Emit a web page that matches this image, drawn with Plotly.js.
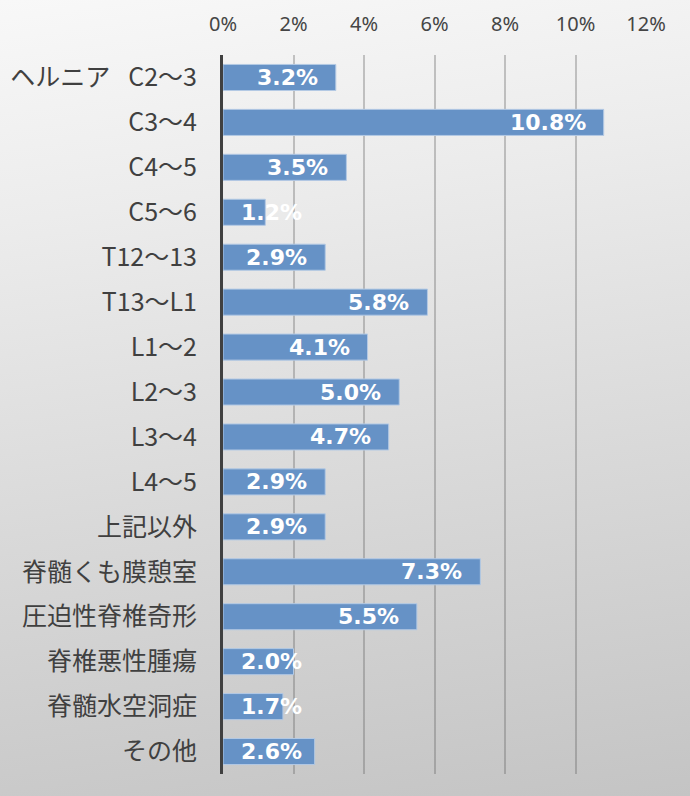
<!DOCTYPE html>
<html>
<head>
<meta charset="utf-8">
<script src="https://cdn.plot.ly/plotly-3.0.1.min.js"></script>
<style>
html,body{margin:0;padding:0;}
body{width:690px;height:796px;background:linear-gradient(172deg,#f8f8f8 0%,#ececec 25%,#d9d9d9 60%,#c4c4c4 100%);}
#chart{width:690px;height:796px;}
</style>
</head>
<body>
<div id="chart"></div>
<script>
const categories = ["ヘルニア\u2002\u00a0C2～3","C3～4","C4～5","C5～6","T12～13","T13～L1","L1～2","L2～3","L3～4","L4～5","上記以外","脊髄くも膜憩室","圧迫性脊椎奇形","脊椎悪性腫瘍","脊髄水空洞症","その他"];
const values = [3.2,10.8,3.5,1.2,2.9,5.8,4.1,5.0,4.7,2.9,2.9,7.3,5.5,2.0,1.7,2.6];
const tickVals = [0,2,4,6,8,10,12];
const tickText = ["0%","2%","4%","6%","8%","10%","12%"];

const W = 690, H = 796;
const margin = {l:223, r:44, t:55, b:22};
const xMax = 12;
const pxPer = (W - margin.l - margin.r) / xMax;
const labelFont = {family:"DejaVu Sans, sans-serif", size:22, color:"#ffffff", weight:700};

const ctx = document.createElement("canvas").getContext("2d");
ctx.font = "bold 22px 'DejaVu Sans'";

const annotations = values.map((v,i) => {
  const txt = v.toFixed(1) + "%";
  const w = ctx.measureText(txt).width;
  const pad = 16;
  if (v*pxPer - pad - w < pad) {
    return {x:0, y:categories[i], xref:"x", yref:"y", text:"<b>"+txt+"</b>", showarrow:false, xanchor:"left", xshift:pad, font:labelFont};
  }
  return {x:v, y:categories[i], xref:"x", yref:"y", text:"<b>"+txt+"</b>", showarrow:false, xanchor:"right", xshift:-pad, font:labelFont};
});

const trace = {
  type:"bar", orientation:"h",
  x: values, y: categories,
  marker:{color:"#6692c6", line:{color:"#b3c9e4", width:1}},
  hoverinfo:"none"
};

const layout = {
  width:W, height:H,
  margin:margin,
  paper_bgcolor:"rgba(0,0,0,0)",
  plot_bgcolor:"rgba(0,0,0,0)",
  bargap:0.42,
  showlegend:false,
  font:{family:"Noto Sans CJK JP, Noto Sans, sans-serif"},
  xaxis:{
    side:"top", range:[0,xMax], tickvals:tickVals, ticktext:tickText,
    showgrid:true, gridcolor:"rgba(90,90,90,0.33)", gridwidth:2,
    zeroline:false, showline:false, ticks:"", ticklabelstandoff:19,
    tickfont:{family:"Noto Sans, sans-serif", size:20, color:"#454545"},
    fixedrange:true
  },
  yaxis:{
    type:"category", autorange:"reversed",
    showline:true, linecolor:"#404040", linewidth:3,
    showgrid:false, zeroline:false, ticks:"", ticklabelstandoff:18,
    tickfont:{family:"Noto Sans CJK JP, sans-serif", size:25, color:"#404040"},
    fixedrange:true
  },
  annotations:annotations
};

Plotly.newPlot("chart",[trace],layout,{displayModeBar:false,staticPlot:true});
</script>
</body>
</html>
